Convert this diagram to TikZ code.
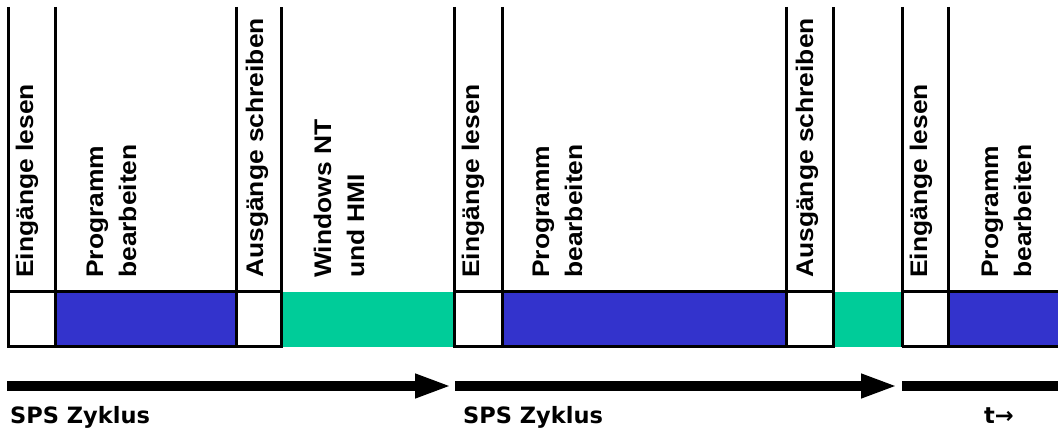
\documentclass[tikz,border=0pt]{standalone}
\usepackage{fontspec}
\newfontfamily\phasefont{Liberation Sans}[FakeStretch=1.1]
\newfontfamily\axisfont{DejaVu Sans}
\usetikzlibrary{arrows.meta}
\definecolor{progblue}{RGB}{51,51,204}
\definecolor{ntgreen}{RGB}{0,204,153}
\tikzset{
	phase/.style={rotate=90, anchor=base west, inner sep=0pt, align=left,
		font=\phasefont\bfseries\fontsize{24}{33}\selectfont},
	cyclelabel/.style={anchor=base west, inner sep=0pt,
		font=\axisfont\bfseries\fontsize{22.5}{27}\selectfont},
	border/.style={line width=3pt},
	timeline/.style={line width=10pt, -{Triangle[length=37pt,width=22pt]}}
}
\begin{document}
\begin{tikzpicture}[x=1pt,y=-1pt]
\useasboundingbox (0,0) rectangle (1058,430);

% program and NT time slots
\fill[progblue] (55,292) rectangle (236,347);
\fill[progblue] (502,292) rectangle (786,347);
\fill[progblue] (948,292) rectangle (1058,347);
\fill[ntgreen] (281,292) rectangle (454,347);
\fill[ntgreen] (833,292) rectangle (902,347);

% cycle borders
\draw[border] (1058,292) -- (902,292) (902,347) -- (1058,347)
	(8,292) -- (281,292) (454,292) -- (833,292);
\draw[border] (8,7) -- (8,347) -- (281,347) -- (281,7)
	(55,7) -- (55,347) (236,7) -- (236,347);
\draw[border] (454,7) -- (454,347) -- (833,347) -- (833,7)
	(502,7) -- (502,347) (786,7) -- (786,347);
\draw[border] (902,7) -- (902,347) (948,7) -- (948,347);

% base of two-line labels = second line
\node[phase] (in1) at (33,278) {Eingänge lesen};
\node[phase] (prog1) at (136,278) {Programm\\bearbeiten};
\node[phase] (out1) at (263,278) {Ausgänge schreiben};
\node[phase] (nt1) at (364,278) {Windows NT\\und HMI};
\node[phase] (in2) at (479,278) {Eingänge lesen};
\node[phase] (prog2) at (582,278) {Programm\\bearbeiten};
\node[phase] (out2) at (813,278) {Ausgänge schreiben};
\node[phase] (in3) at (927,278) {Eingänge lesen};
\node[phase] (prog3) at (1031,278) {Programm\\bearbeiten};

% time axis
\coordinate (c0) at (7,386);
\coordinate (c1) at (452,386);
\coordinate (c2) at (455,386);
\coordinate (c3) at (898,386);
\coordinate (c4) at (902,386);
\coordinate (c5) at (1058,386);
\draw[timeline] (c0) -- (c1);
\draw[timeline] (c2) -- (c3);
\draw[line width=10pt] (c4) -- (c5);

\node[cyclelabel] (zyklus1) at (10,423) {SPS Zyklus};
\node[cyclelabel] (zyklus2) at (463,423) {SPS Zyklus};
\node[cyclelabel] (zeit) at (984,423) {t→};
\end{tikzpicture}
\end{document}
